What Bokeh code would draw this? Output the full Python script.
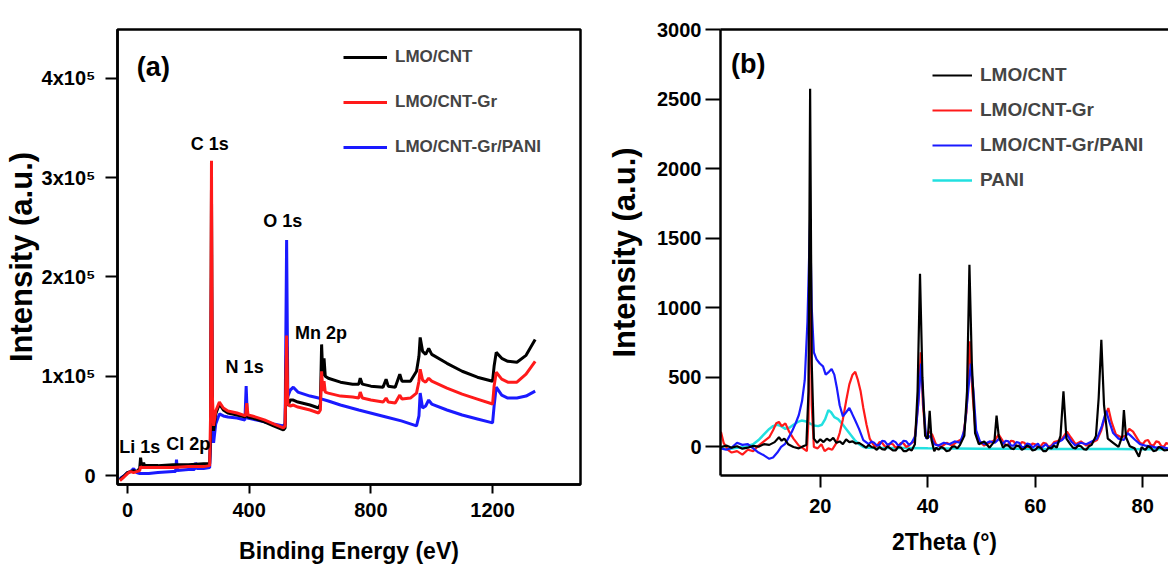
from bokeh.plotting import figure
from bokeh.models import Range1d, FixedTicker, Legend, LegendItem, Label, LinearAxis
from bokeh.layouts import row
from bokeh.embed import file_html
from bokeh.resources import INLINE

FONT = "Liberation Sans"

# ---------------- (a) XPS survey: binding energy (eV) vs intensity (10^3 counts)
xps_black_ev = [-25, -10, 0, 10, 20, 30, 40, 43, 46, 50, 53, 56, 70, 100, 150, 200, 250, 270, 273, 276,
                279, 283, 290, 302, 315, 330, 360, 388, 392, 396, 410, 450, 480, 512, 518, 523, 527, 535, 545, 560,
                600, 628, 634, 638, 642, 646, 650, 660, 700, 740, 760, 765, 772, 800, 840, 850, 857, 880, 895, 902,
                930, 950, 958, 962, 970, 980, 990, 1000, 1050, 1100, 1150, 1200, 1205, 1212, 1230, 1250, 1280, 1310, 1340]
xps_black_kc = [-4, 0, 3, 4, 5, 4, 7, 18, 10, 10, 13, 10, 10, 10, 11, 11, 12, 12, 40, 290,
                60, 45, 62, 72, 66, 63, 61, 59, 64, 59, 58, 54, 50, 46, 48, 130, 70, 76, 76, 74,
                71, 68, 72, 132, 100, 118, 100, 98, 94, 92, 92, 98, 92, 90, 89, 97, 90, 89, 102, 95,
                95, 105, 120, 139, 125, 122, 128, 122, 113, 105, 99, 95, 110, 124, 118, 115, 114, 121, 137]

xps_red_ev = [-25, -10, 0, 10, 20, 30, 40, 43, 46, 70, 100, 150, 200, 250, 270, 273, 276, 279, 283, 290,
              302, 315, 330, 360, 388, 392, 396, 410, 450, 480, 512, 518, 523, 527, 535, 545, 560, 600, 628, 634,
              638, 642, 646, 650, 660, 700, 740, 760, 765, 772, 800, 840, 850, 857, 880, 895, 902, 930, 950, 958,
              962, 970, 980, 990, 1000, 1050, 1100, 1150, 1200, 1205, 1212, 1230, 1250, 1280, 1310, 1340]
xps_red_kc = [-5, -1, 2, 4, 3, 4, 5, 9, 8, 8, 8, 8, 9, 9, 10, 60, 317, 80, 50, 65,
              74, 68, 65, 63, 60, 73, 61, 60, 56, 52, 48, 50, 141, 72, 70, 71, 69, 66, 63, 66,
              105, 85, 95, 84, 83, 80, 79, 78, 84, 78, 76, 74, 78, 74, 73, 81, 77, 78, 83, 95,
              107, 96, 94, 98, 95, 88, 82, 77, 72, 90, 104, 97, 94, 94, 102, 115]

xps_blue_ev = [-25, -10, 0, 10, 20, 30, 40, 50, 70, 100, 150, 158, 161, 164, 200, 220, 224, 228, 250, 270,
               273, 276, 279, 283, 290, 302, 315, 330, 360, 386, 390, 394, 410, 450, 480, 512, 518, 523, 527, 535,
               545, 560, 600, 628, 660, 700, 760, 850, 900, 950, 958, 962, 970, 980, 990, 1000, 1050, 1100, 1150, 1200,
               1205, 1212, 1230, 1250, 1280, 1310, 1340]
xps_blue_kc = [-3, 0, 3, 4, 7, 3, 2, 2, 2, 3, 4, 4, 16, 5, 6, 6, 13, 7, 7, 8,
               30, 200, 45, 33, 52, 62, 60, 59, 58, 56, 90, 58, 57, 54, 52, 50, 52, 237, 80, 86,
               89, 84, 80, 78, 75, 71, 66, 59, 55, 50, 60, 83, 68, 70, 76, 72, 66, 61, 57, 53,
               70, 89, 81, 78, 78, 80, 85]

xps_yticks = [0, 100, 200, 300, 400]
xps_ylabels = ["0", "1x10\u2075", "2x10\u2075", "3x10\u2075", "4x10\u2075"]
xps_xticks = [0, 400, 800, 1200]

# ---------------- (b) XRD: 2theta (deg) vs intensity (a.u.)
xrd_black = [(1.5, 0), (2.5, 10), (3.5, -5), (4.5, 5), (5.5, -12), (6.5, -5), (7.5, 8), (8.5, 2), (9.5, 20),
             (10.5, 15), (11.5, 35), (12.3, 70), (12.8, 45), (13.3, 60), (14, 20), (15, 0), (16, -10), (16.8, 5),
             (17.4, 15), (17.8, 400), (18.1, 2575), (18.4, 600), (18.8, 60), (19.4, 30), (20, 55), (20.6, 35),
             (21.2, 60), (21.8, 45), (22.4, 65), (23, 30), (23.6, 40), (24.2, 20), (24.8, 55), (25.4, 35), (26, 40),
             (26.6, 25), (27.2, 30), (28, 10), (28.5, -5), (29, 15), (29.5, 0), (30, -5), (30.5, -20), (31, 0),
             (31.5, -15), (32, -20), (32.5, 5), (33, -10), (33.5, -25), (34, -25), (34.5, 0), (35, -5), (35.5, -30),
             (36, -30), (36.5, -15), (37, -25), (37.6, 20), (38.1, 400), (38.55, 1245), (39, 500), (39.5, 80),
             (40, 60), (40.35, 260), (40.7, 50), (41.2, -30), (41.6, -5), (42, -20), (42.5, 0), (43, -10),
             (43.5, -30), (44, -25), (44.5, 0), (45, 5), (45.5, -10), (46, 15), (46.8, 80), (47.3, 400),
             (47.75, 1310), (48.2, 600), (48.8, 100), (49.5, 20), (50.5, 40), (51.5, -5), (52.4, 40), (52.8, 225),
             (53.2, 80), (54, -5), (54.5, 15), (55, 10), (55.5, -10), (56, -15), (56.5, 10), (57, 5), (57.5, -20),
             (58, -10), (58.5, 10), (59, 0), (59.5, -25), (60, -20), (60.5, 0), (61, -5), (61.5, -30), (62, -30),
             (62.5, -5), (63, -10), (63.5, 10), (64, -5), (64.7, 80), (65.25, 400), (65.8, 60), (66.5, 20),
             (67, -5), (67.5, -10), (68, 10), (68.5, 5), (69, -15), (69.5, -20), (70, 5), (70.5, 15), (71.3, 80),
             (71.8, 350), (72.3, 770), (72.8, 300), (73.5, 60), (74.5, 30), (75.5, 0), (76.2, 80), (76.5, 265),
             (76.9, 70), (77.6, 5), (78.5, -10), (79.3, -70), (79.8, 0), (80.2, -15), (80.5, -20), (81, 5),
             (81.5, -5), (82, -30), (82.5, -25), (83, 0), (83.5, -10), (84, -25), (84.7, -20)]

xrd_red = [(1.5, 110), (2, 30), (2.8, -20), (3.5, -40), (4.5, -30), (5.5, -55), (6.5, -20), (7.5, -30), (8.5, 10),
           (9.5, 40), (10.5, 70), (11.2, 120), (11.8, 170), (12.3, 180), (12.8, 150), (13.5, 170), (14.2, 110),
           (15, 60), (16, 10), (16.8, -10), (17.5, -30), (17.8, 200), (18.1, 1500), (18.4, 300), (18.8, 0),
           (19.5, -10), (20.2, 20), (20.8, -30), (21.5, -10), (22.2, -20), (23, 30), (23.6, 100), (24.2, 200),
           (24.8, 330), (25.4, 450), (26, 520), (26.5, 540), (27, 480), (27.5, 400), (28, 280), (28.6, 160),
           (29.2, 60), (29.8, 20), (30.2, 0), (30.6, 10), (31, 35), (31.5, 30), (32, 5), (32.5, 0), (33, 25),
           (33.5, 20), (34, -5), (34.5, 5), (35, 30), (35.5, 25), (36, 0), (36.5, 10), (37, 30), (37.5, 40),
           (38.2, 300), (38.7, 680), (39.1, 300), (39.6, 80), (40.2, 110), (40.8, 90), (41.5, 20), (42.5, 0),
           (43.5, 30), (44.5, 10), (45.5, 40), (46.5, 60), (47.2, 250), (47.8, 760), (48.3, 400), (48.9, 100),
           (49.6, 40), (50.5, 10), (51.5, 30), (52.5, 50), (53.2, 90), (54, 40), (54.5, 10), (55, 20), (55.5, 45),
           (56, 40), (56.5, 5), (57, 10), (57.5, 35), (58, 30), (58.5, 0), (59, 0), (59.5, 25), (60, 20),
           (60.5, 0), (61, 5), (61.5, 30), (62, 25), (62.5, 0), (63, 10), (63.5, 35), (64, 40), (65, 60),
           (65.9, 110), (66.6, 70), (67.5, 20), (68.5, 40), (69.5, 10), (70.5, 30), (71.5, 50), (72.3, 120),
           (73, 220), (73.6, 280), (74.2, 180), (75, 90), (76, 70), (76.8, 80), (77.5, 130), (78.2, 110),
           (79, 60), (79.5, 30), (80, 20), (80.5, 45), (81, 50), (81.5, 15), (82, 10), (82.5, 40), (83, 35),
           (83.5, 5), (84, 5), (84.4, 30), (84.7, 20)]

xrd_blue = [(1.5, -10), (2.5, -20), (3.5, -5), (4.5, 30), (5.5, 15), (6.5, 20), (7.5, -10), (8.5, -40), (9.5, -60),
            (10.5, -85), (11.2, -75), (12, -40), (12.7, 0), (13.4, 20), (14, 60), (14.7, 110), (15.4, 170),
            (16, 230), (16.6, 330), (17.1, 480), (17.6, 900), (18.1, 1650), (18.4, 1000), (18.8, 680), (19.3, 630),
            (19.9, 600), (20.5, 580), (21, 520), (21.6, 540), (22.1, 560), (22.6, 520), (23.1, 420), (23.6, 300),
            (24.2, 220), (24.8, 250), (25.4, 280), (25.9, 240), (26.5, 190), (27.2, 130), (28, 50), (29, 20),
            (29.5, 40), (30, 30), (30.5, 10), (31, 15), (31.5, 45), (32, 40), (32.5, 15), (33, 25), (33.5, 45),
            (34, 35), (34.5, 10), (35, 20), (35.5, 45), (36, 40), (36.5, 15), (37, 30), (37.7, 80), (38.3, 350),
            (38.75, 600), (39.2, 300), (39.7, 60), (40.5, 80), (41.2, 20), (42, 10), (43, 30), (44, 20), (45, 40),
            (46, 30), (46.8, 120), (47.4, 350), (48, 600), (48.5, 400), (49, 120), (49.7, 40), (50.5, 20),
            (51.5, 40), (52.5, 30), (53.3, 60), (54, 20), (54.5, 45), (55, 40), (55.5, 10), (56, 10), (56.5, 35),
            (57, 30), (57.5, 0), (58, 0), (58.5, 25), (59, 20), (59.5, -5), (60, 10), (60.5, 25), (61, -10),
            (61.5, 5), (62, 20), (62.5, -5), (63, 0), (63.5, 25), (64, 30), (65, 50), (65.9, 90), (66.7, 40),
            (67.5, 10), (68.5, 30), (69.5, 20), (70.5, 40), (71.5, 60), (72.4, 150), (73.2, 260), (73.8, 180),
            (74.5, 100), (75.5, 60), (76.5, 50), (77.2, 100), (77.8, 80), (78.6, 50), (79.5, 20), (80.5, 10),
            (81.5, 5), (82.5, -5), (83.5, 0), (84.7, -10)]

xrd_cyan = [(1.5, -10), (3, -15), (4.5, -5), (6, 0), (7.5, 20), (8.5, 50), (9.5, 90), (10.5, 130), (11.2, 150),
            (12, 160), (12.7, 150), (13.5, 130), (14.3, 140), (15, 160), (15.8, 180), (16.5, 190), (17.2, 185),
            (18, 170), (18.8, 155), (19.6, 150), (20.3, 160), (20.9, 200), (21.5, 265), (22, 250), (22.6, 215),
            (23.3, 200), (24, 170), (24.8, 130), (25.6, 90), (26.4, 50), (27.2, 20), (28, 0), (29, -5), (31, -8),
            (35, -8), (40, -10), (45, -11), (50, -12), (55, -13), (60, -14), (65, -14), (70, -15), (75, -15),
            (80, -16), (84.7, -16)]

xrd_yticks = [0, 500, 1000, 1500, 2000, 2500, 3000]
xrd_xticks = [20, 40, 60, 80]

BLACK = "#000000"
RED = "#ff1a1a"
BLUE = "#1a1aff"
CYAN = "#22e0e0"


def style_axis(ax, tick_out, label_size, label_standoff, title_size, title_standoff):
    ax.axis_line_color = "black"
    ax.axis_line_width = 2.5
    ax.major_tick_line_color = "black"
    ax.major_tick_line_width = 2
    ax.major_tick_out = tick_out
    ax.major_tick_in = 0
    ax.minor_tick_line_color = None
    ax.major_label_text_font = FONT
    ax.major_label_text_font_size = label_size
    ax.major_label_text_font_style = "bold"
    ax.major_label_text_color = "black"
    ax.major_label_standoff = label_standoff
    ax.axis_label_text_font = FONT
    ax.axis_label_text_font_size = title_size
    ax.axis_label_text_font_style = "bold"
    ax.axis_label_text_color = "black"
    ax.axis_label_standoff = title_standoff


# ---------------- panel (a)
p1 = figure(width=600, height=566, x_range=Range1d(-32.9, 1489), y_range=Range1d(-9, 449),
            output_backend="svg", toolbar_location=None,
            min_border_left=117, min_border_right=20, min_border_top=29, min_border_bottom=82)
p1.xgrid.visible = False
p1.ygrid.visible = False
p1.outline_line_color = "black"
p1.outline_line_width = 2.5
p1.background_fill_color = "white"
p1.border_fill_color = "white"

r1_blue = p1.line(xps_blue_ev, xps_blue_kc, line_color=BLUE, line_width=3)
r1_black = p1.line(xps_black_ev, xps_black_kc, line_color=BLACK, line_width=3)
r1_red = p1.line(xps_red_ev, xps_red_kc, line_color=RED, line_width=3)

p1.xaxis.ticker = FixedTicker(ticks=xps_xticks)
p1.yaxis.ticker = FixedTicker(ticks=xps_yticks)
p1.yaxis.major_label_overrides = dict(zip(xps_yticks, xps_ylabels))
p1.xaxis.axis_label = "Binding Energy (eV)"
p1.yaxis.axis_label = "Intensity (a.u.)"
style_axis(p1.xaxis[0], 9, "20px", 9, "23px", 18)
style_axis(p1.yaxis[0], 12, "20px", 10, "31px", 0)

leg1 = Legend(items=[LegendItem(label="LMO/CNT", renderers=[r1_black]),
                     LegendItem(label="LMO/CNT-Gr", renderers=[r1_red]),
                     LegendItem(label="LMO/CNT-Gr/PANI", renderers=[r1_blue])],
              location=(226, 325), glyph_width=44, glyph_height=24, label_height=24, spacing=21,
              padding=0, margin=0, label_standoff=8, border_line_alpha=0, background_fill_alpha=0,
              label_text_font=FONT, label_text_font_size="17px", label_text_font_style="bold")
p1.add_layout(leg1)

peak_labels = [("(a)", 85, 411, "27px"), ("C 1s", 270, 334, "18px"), ("O 1s", 510, 256, "18px"),
               ("N 1s", 385, 109, "18px"), ("Mn 2p", 636, 143, "18px"), ("Li 1s", 40, 29, "18px"),
               ("Cl 2p", 200, 32, "18px")]
for txt, lx, ly, fs in peak_labels:
    p1.add_layout(Label(x=lx, y=ly, text=txt, text_font=FONT, text_font_size=fs,
                        text_font_style="bold", text_align="center", text_baseline="middle",
                        text_color="black"))

# ---------------- panel (b)
p2 = figure(width=568, height=557, x_range=Range1d(1.42, 84.8), y_range=Range1d(-205, 3001),
            output_backend="svg", toolbar_location=None,
            min_border_left=120, min_border_right=0, min_border_top=29, min_border_bottom=82)
p2.xgrid.visible = False
p2.ygrid.visible = False
p2.outline_line_color = None
p2.background_fill_color = "white"
p2.border_fill_color = "white"

r2_cyan = p2.line([a for a, b in xrd_cyan], [b for a, b in xrd_cyan], line_color=CYAN, line_width=2.5)
r2_red = p2.line([a for a, b in xrd_red], [b for a, b in xrd_red], line_color=RED, line_width=2.2)
r2_blue = p2.line([a for a, b in xrd_blue], [b for a, b in xrd_blue], line_color=BLUE, line_width=2.2)
r2_black = p2.line([a for a, b in xrd_black], [b for a, b in xrd_black], line_color=BLACK, line_width=2.2)

p2.xaxis.ticker = FixedTicker(ticks=xrd_xticks)
p2.yaxis.ticker = FixedTicker(ticks=xrd_yticks)
p2.xaxis.axis_label = "2Theta (\u00b0)"
p2.yaxis.axis_label = "Intensity (a.u.)"
style_axis(p2.xaxis[0], 12, "20px", 11, "23px", 13)
style_axis(p2.yaxis[0], 15, "20px", 4, "31px", 12)

top_axis = LinearAxis(ticker=FixedTicker(ticks=[]), axis_line_color="black", axis_line_width=2.5,
                      major_tick_line_color=None, minor_tick_line_color=None,
                      major_label_text_font_size="0px")
p2.add_layout(top_axis, "above")

leg2 = Legend(items=[LegendItem(label="LMO/CNT", renderers=[r2_black]),
                     LegendItem(label="LMO/CNT-Gr", renderers=[r2_red]),
                     LegendItem(label="LMO/CNT-Gr/PANI", renderers=[r2_blue]),
                     LegendItem(label="PANI", renderers=[r2_cyan])],
              location=(212, 283), glyph_width=40, glyph_height=24, label_height=24, spacing=11,
              padding=0, margin=0, label_standoff=8, border_line_alpha=0, background_fill_alpha=0,
              label_text_font=FONT, label_text_font_size="19px", label_text_font_style="bold")
p2.add_layout(leg2)

p2.add_layout(Label(x=6.6, y=2755, text="(b)", text_font=FONT, text_font_size="27px",
                    text_font_style="bold", text_align="center", text_baseline="middle", text_color="black"))

layout = row(p1, p2)
open("out.html", "w").write(file_html(layout, INLINE))
